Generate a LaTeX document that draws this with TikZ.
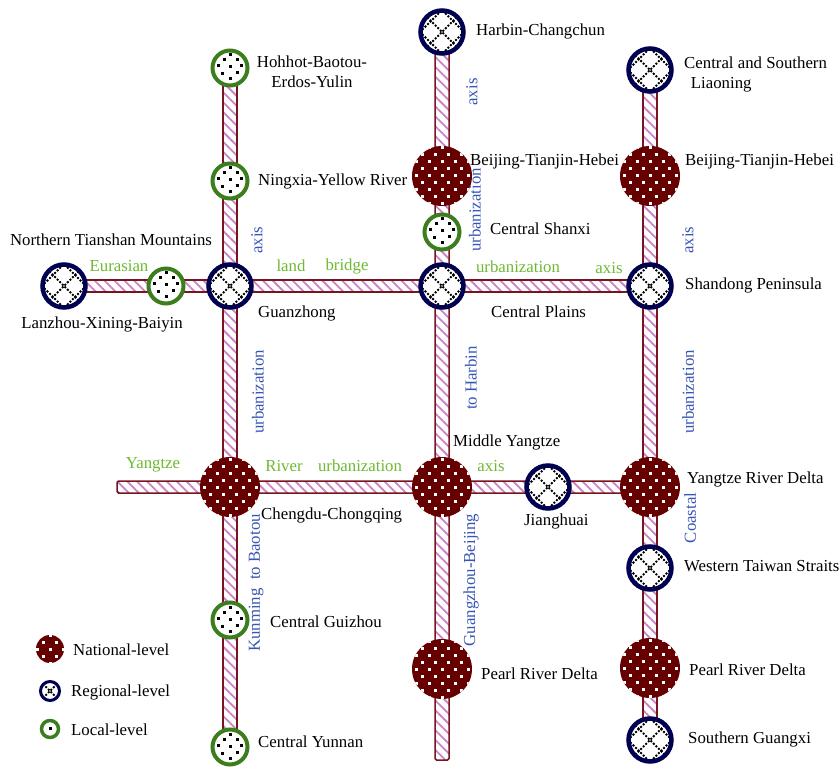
\documentclass[tikz,border=0pt]{standalone}
\usepackage{fontspec}
\setmainfont{Liberation Serif}
\usetikzlibrary{calc,patterns.meta,backgrounds}
\definecolor{natred}{RGB}{102,0,0}
\definecolor{regblue}{RGB}{0,0,80}
\definecolor{locgreen}{RGB}{60,125,30}
\definecolor{corred}{RGB}{120,20,30}
\definecolor{stripe}{RGB}{205,130,200}
\definecolor{axgreen}{RGB}{110,185,50}
\definecolor{axblue}{RGB}{55,85,180}

\begin{document}
\begin{tikzpicture}[x=1pt,y=1pt,yscale=-1,xscale=1,
    every node/.style={font=\fontsize{16.8}{20}\selectfont},
    national/.style={circle,inner sep=0pt,minimum size=60pt,fill=natred,
      path picture={\begin{scope}[shift={(path picture bounding box.center)}]
        \foreach \i in {-3,...,3} \foreach \j in {-5,...,5} {
          \pgfmathsetmacro{\dx}{13*\i+6.5*mod(\j+10,2)}
          \fill[white] (\dx,7*\j) ++(-1.5,-1.5) rectangle ++(3,3);}
      \end{scope}}},
    regional/.style={circle,inner sep=0pt,minimum size=43pt,draw=regblue,line width=4.5pt,fill=white,
      path picture={\begin{scope}[shift={(path picture bounding box.center)}]
        \foreach \o in {-22,0,22} {
          \draw[black,line width=1.8pt,dash pattern=on 2pt off 1.6pt] (-30,-30+\o) -- (30,30+\o);
          \draw[black,line width=1.8pt,dash pattern=on 2pt off 1.6pt] (-30,30+\o) -- (30,-30+\o);}
      \end{scope}}},
    local/.style={circle,inner sep=0pt,minimum size=35pt,draw=locgreen,line width=4pt,fill=white,
      path picture={\begin{scope}[shift={(path picture bounding box.center)}]
        \foreach \p in {(0,-11),(-8,-6),(7,-5),(-12,2),(0,1),(11,2),(-6,8),(7,8),(0,13)}
          \fill[black] \p ++(-1.5,-1.5) rectangle ++(3,3);
      \end{scope}}},
    corridor/.style={draw=corred,line width=1.5pt,pattern={Lines[angle=-45,distance=7pt,line width=1.8pt]},pattern color=stripe},
    lbl/.style={anchor=west,inner sep=0pt,text=black},
    grn/.style={text=axgreen,inner sep=0pt},
    blu/.style={text=axblue,inner sep=0pt,rotate=90}
  ]
    \useasboundingbox (0,0) rectangle (839,770);

    % Left axis
    \node[local] (hohhot) at (230,68) {};
    \node[local] (ningxia) at (230,181) {};
    \node[regional] (guanzhong) at (230,286) {};
    \node[national] (chengdu) at (230,487) {};
    \node[local] (guizhou) at (230,620) {};
    \node[local] (yunnan) at (230,747) {};
    \node[regional] (lanzhou) at (64,286) {};
    \node[local] (tianshan) at (166,286) {};

    % Middle axis
    \node[regional] (harbin) at (442,32) {};
    \node[national] (jjjmid) at (442,176) {};
    \node[local] (shanxi) at (442,232) {};
    \node[regional] (plains) at (442,286) {};
    \node[national] (midyangtze) at (442,487) {};
    \node[regional] (jianghuai) at (548,487) {};
    \node[national] (prdmid) at (442,669) {};
    \coordinate (midend) at (442,760);

    % Right axis
    \node[regional] (liaoning) at (650,70) {};
    \node[national] (jjjeast) at (650,176) {};
    \node[regional] (shandong) at (650,286) {};
    \node[national] (yrd) at (650,487) {};
    \node[regional] (taiwan) at (650,568) {};
    \node[national] (prdeast) at (650,668) {};
    \node[regional] (guangxi) at (650,740) {};
    \coordinate (yrwest) at (117,487);

    % Corridors
    \begin{scope}[on background layer]
      \path[corridor] ($(hohhot.center)+(-7,0)$) rectangle ($(yunnan.center)+(7,0)$);
      \path[corridor,rounded corners=1.5pt] ($(harbin.center)+(-7,0)$) rectangle ($(midend)+(7,0)$);
      \path[corridor] ($(liaoning.center)+(-7,0)$) rectangle ($(guangxi.center)+(7,0)$);
      \path[corridor] ($(lanzhou.center)+(0,-6)$) rectangle ($(shandong.center)+(0,6)$);
      \path[corridor,rounded corners=1.5pt] ($(yrwest)+(0,-6)$) rectangle ($(yrd.center)+(0,6)$);
    \end{scope}

    % Text Node
    \node[lbl,anchor=center,align=center] (thohhot) at (312,72) {Hohhot-Baotou-\\Erdos-Yulin};
    \node[lbl] (tningxia) at (258,181) {Ningxia-Yellow River};
    \node[lbl,anchor=center] (ttianshan) at (111,240) {Northern Tianshan Mountains};
    \node[lbl,anchor=center] (tlanzhou) at (102,324) {Lanzhou-Xining-Baiyin};
    \node[lbl] (tguanzhong) at (258,313) {Guanzhong};
    \node[lbl] (tchengdu) at (261,515) {Chengdu-Chongqing};
    \node[lbl] (tguizhou) at (270,622) {Central Guizhou};
    \node[lbl] (tyunnan) at (258,742) {Central Yunnan};
    \node[lbl] (tharbin) at (476,31) {Harbin-Changchun};
    \node[lbl] (tjjjmid) at (470,161) {Beijing-Tianjin-Hebei};
    \node[lbl] (tshanxi) at (490,229) {Central Shanxi};
    \node[lbl] (tplains) at (491,312) {Central Plains};
    \node[lbl] (tmidyangtze) at (453,442) {Middle Yangtze};
    \node[lbl] (tjianghuai) at (524,521) {Jianghuai};
    \node[lbl] (tprdmid) at (481,674) {Pearl River Delta};
    \node[lbl,align=left] (tliaoning) at (684,74) {Central and Southern\\\hspace{0.4em}Liaoning};
    \node[lbl] (tjjjeast) at (685,161) {Beijing-Tianjin-Hebei};
    \node[lbl] (tshandong) at (685,285) {Shandong Peninsula};
    \node[lbl] (tyrd) at (687,479) {Yangtze River Delta};
    \node[lbl] (ttaiwan) at (684,566) {Western Taiwan Straits};
    \node[lbl] (tprdeast) at (689,670) {Pearl River Delta};
    \node[lbl] (tguangxi) at (688,739) {Southern Guangxi};

    % Corridor labels
    \node[grn] (geurasian) at (119,266) {Eurasian};
    \node[grn] (gland) at (291,266) {land};
    \node[grn] (gbridge) at (347,266) {bridge};
    \node[grn] (gurbtop) at (518,267) {urbanization};
    \node[grn] (gaxistop) at (609,268) {axis};
    \node[grn] (gyangtze) at (153,465) {Yangtze};
    \node[grn] (griver) at (284,466) {River};
    \node[grn] (gurbbot) at (360,466) {urbanization};
    \node[grn] (gaxisbot) at (491,466) {axis};
    \node[blu] (baxisleft) at (257,240) {axis};
    \node[blu] (burbleft) at (258,392) {urbanization};
    \node[blu] (bkunming) at (256,583) {Kunming\ \ to Baotou};
    \node[blu] (baxismid) at (472,92) {axis};
    \node[blu] (burbmid) at (475,210) {urbanization};
    \node[blu] (bharbin) at (471,378) {to Harbin};
    \node[blu] (bguangzhou) at (471,580) {Guangzhou-Beijing};
    \node[blu] (baxisright) at (688,240) {axis};
    \node[blu] (burbright) at (688,392) {urbanization};
    \node[blu] (bcoastal) at (690,518) {Coastal};

    % Legend
    \node[national,minimum size=28pt] (legnat) at (50,649) {};
    \node[regional,minimum size=19pt,line width=3pt] (legreg) at (50,691) {};
    \node[local,minimum size=17pt,line width=3.5pt] (legloc) at (50,729) {};
    \node[lbl] (tlegnat) at (73,650) {National-level};
    \node[lbl] (tlegreg) at (71,692) {Regional-level};
    \node[lbl] (tlegloc) at (71,730) {Local-level};
\end{tikzpicture}
\end{document}
